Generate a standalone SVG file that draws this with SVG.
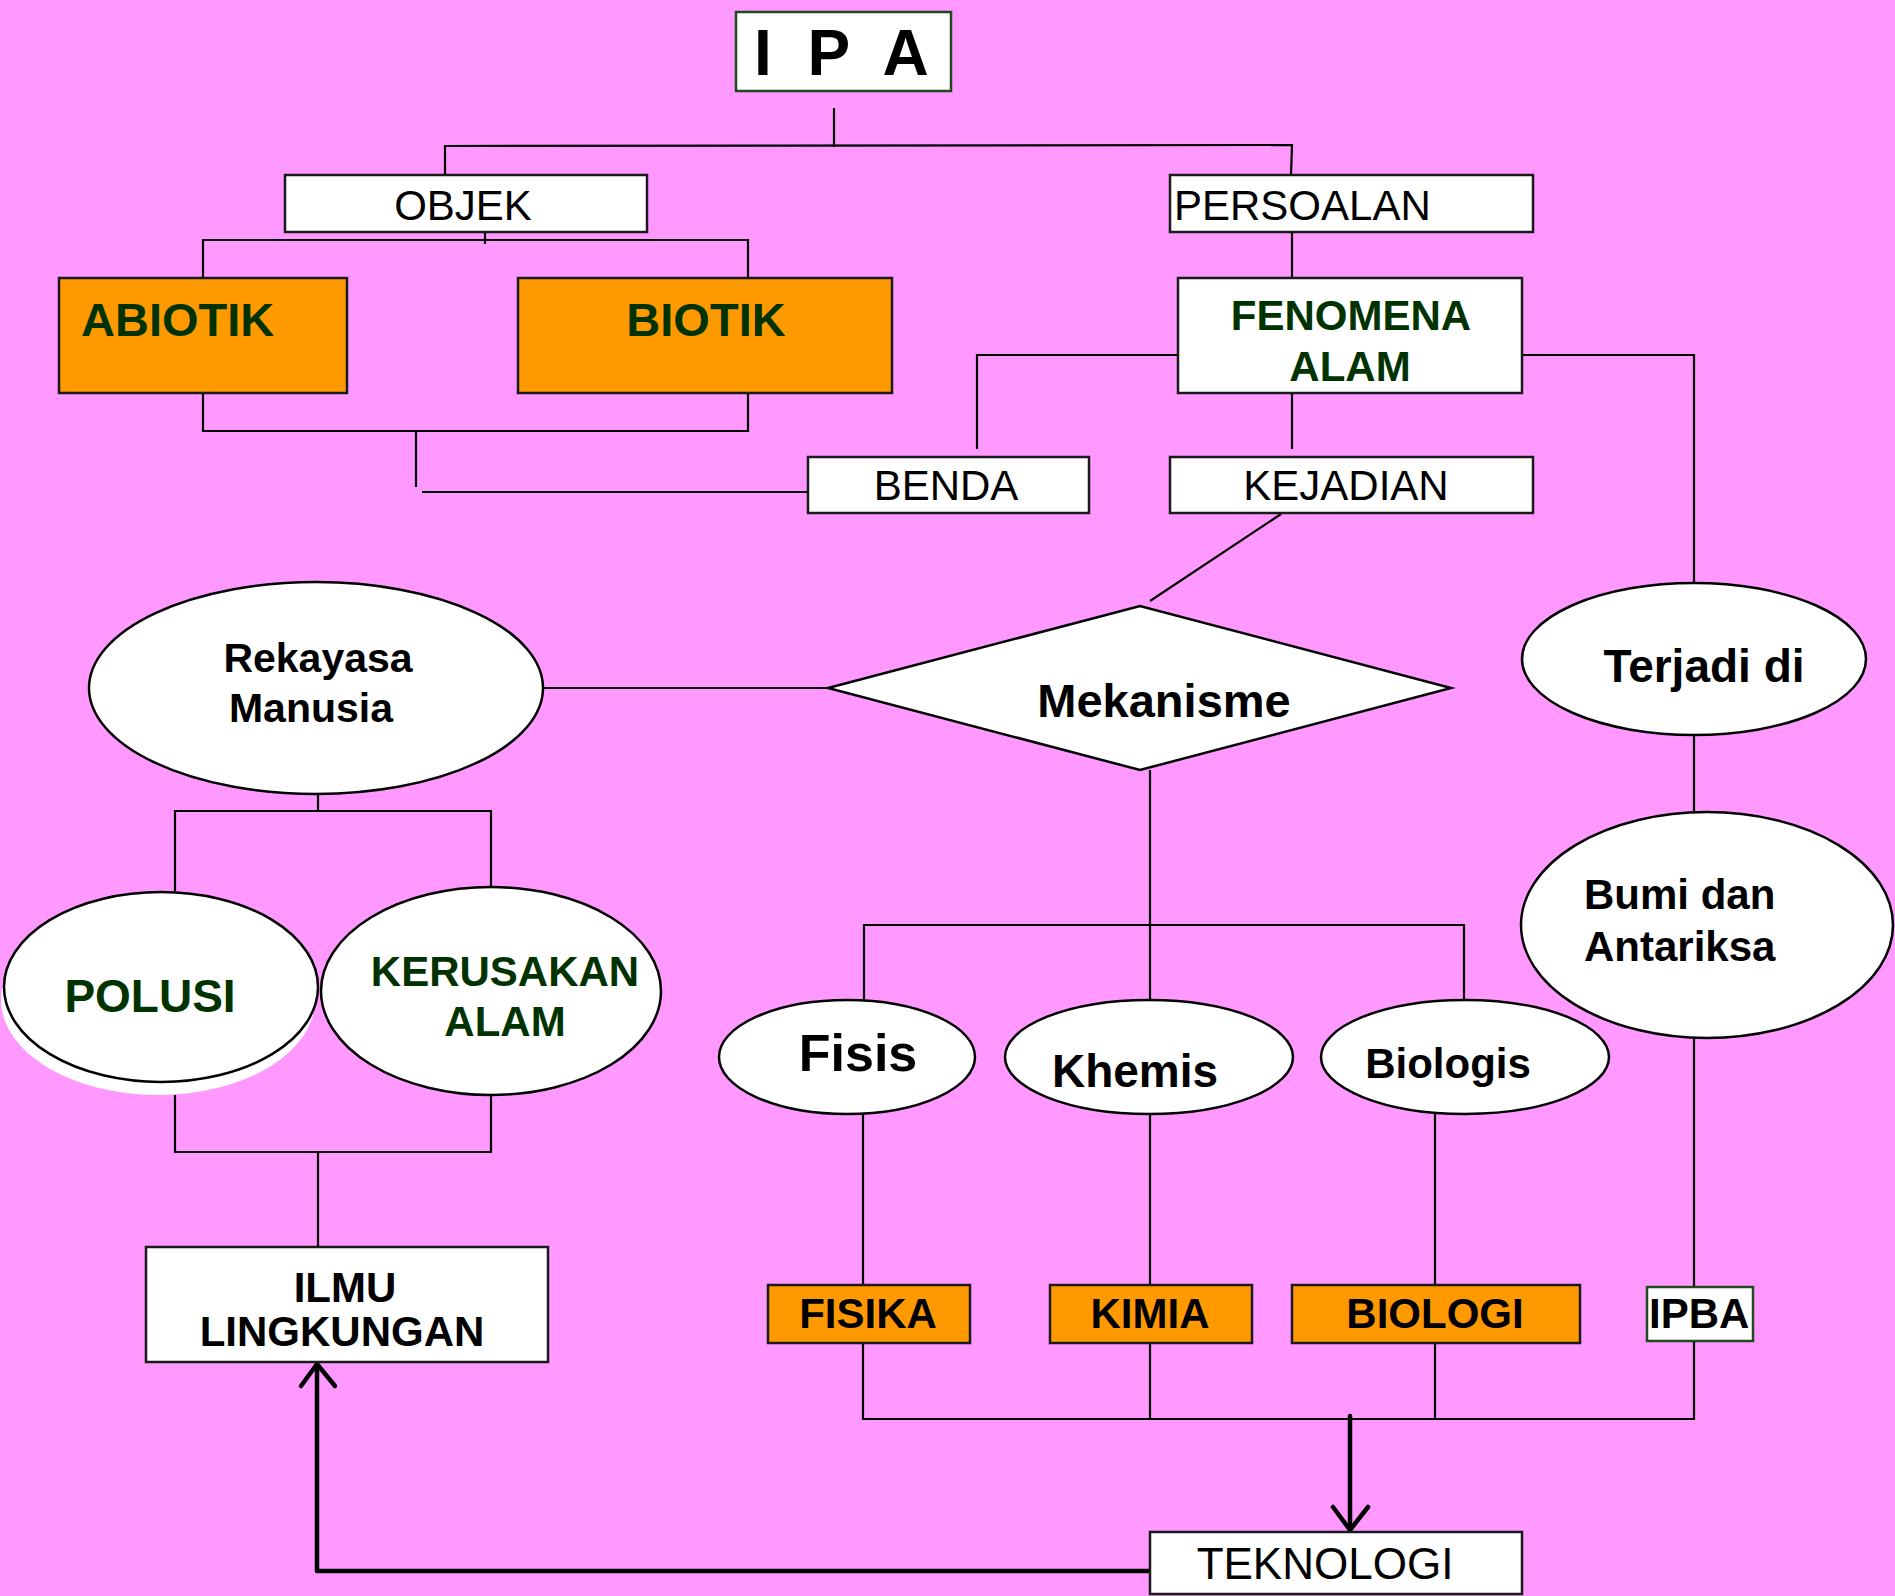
<svg xmlns="http://www.w3.org/2000/svg" width="1895" height="1596" viewBox="0 0 1895 1596">
<style>
.bg{fill:#FF99FF}
.box{fill:#fff;stroke:#1a1a1a;stroke-width:2.5}
.gbox{fill:#fff;stroke:#1f4a1f;stroke-width:2.5}
.obox{fill:#FF9900;stroke:#1a1a1a;stroke-width:2.5}
.ell{fill:#fff;stroke:#000;stroke-width:2.5}
.ln{fill:none;stroke:#000;stroke-width:2.2}
.arr{fill:none;stroke:#000;stroke-width:4.5;stroke-linecap:round;stroke-linejoin:round}
text{font-family:"Liberation Sans",Arial,sans-serif}
.n{font-size:42px;fill:#000}
.b{font-size:42px;font-weight:bold;fill:#000}
.g{font-size:42px;font-weight:bold;fill:#003300}
.m{text-anchor:middle}
</style>
<rect class="bg" x="0" y="0" width="1895" height="1596"/>

<g id="connectors">
<polyline class="ln" points="834,108 834,147"/>
<polyline class="ln" points="445,175 445,146 1292,145 1291,175"/>
<polyline class="ln" points="485,232 485,244"/>
<polyline class="ln" points="203,278 203,240 748,240 748,278"/>
<polyline class="ln" points="203,393 203,431 748,431 748,393"/>
<polyline class="ln" points="416,431 416,487"/>
<polyline class="ln" points="422,492 808,492"/>
<polyline class="ln" points="1292,232 1292,278"/>
<polyline class="ln" points="1178,355 977,355 977,449"/>
<polyline class="ln" points="1292,393 1292,449"/>
<polyline class="ln" points="1522,355 1694,355 1694,582"/>
<polyline class="ln" points="1281,514 1150,601"/>
<polyline class="ln" points="542,688 828,688"/>
<polyline class="ln" points="1150,770 1150,999"/>
<polyline class="ln" points="864,1000 864,925 1464,925 1464,999"/>
<polyline class="ln" points="1694,735 1694,811"/>
<polyline class="ln" points="1694,1038 1694,1287"/>
<polyline class="ln" points="318,794 318,811"/>
<polyline class="ln" points="175,891 175,811 491,811 491,886"/>
<polyline class="ln" points="175,1095 175,1152 491,1152 491,1095"/>
<polyline class="ln" points="318,1152 318,1247"/>
<polyline class="ln" points="863,1114 863,1285"/>
<polyline class="ln" points="1150,1114 1150,1285"/>
<polyline class="ln" points="1435,1114 1435,1285"/>
<polyline class="ln" points="863,1343 863,1419 1694,1419 1694,1341"/>
<polyline class="ln" points="1150,1343 1150,1419"/>
<polyline class="ln" points="1435,1343 1435,1419"/>
<polyline class="arr" points="1350,1416 1350,1530"/>
<polyline class="arr" points="1333,1507 1350,1530 1368,1507"/>
<polyline class="arr" points="1150,1571 317,1571 317,1364"/>
<polyline class="arr" points="301,1386 317,1364 335,1386"/>
</g>

<g id="ipa"><rect class="gbox" x="736" y="12" width="215" height="79"/><text x="754" y="75" style="font-size:64px;font-weight:bold;letter-spacing:9px" xml:space="preserve">I P A</text></g>
<g id="objek"><rect class="box" x="285" y="175" width="362" height="57"/><text class="n m" x="463" y="220">OBJEK</text></g>
<g id="persoalan"><rect class="box" x="1170" y="175" width="363" height="57"/><text class="n" x="1174" y="220">PERSOALAN</text></g>
<g id="abiotik"><rect class="obox" x="59" y="278" width="288" height="115"/><text class="g" x="81" y="336" style="font-size:47px">ABIOTIK</text></g>
<g id="biotik"><rect class="obox" x="518" y="278" width="374" height="115"/><text class="g m" x="706" y="336" style="font-size:47px">BIOTIK</text></g>
<g id="fenomena"><rect class="box" x="1178" y="278" width="344" height="115"/><text class="g m" x="1351" y="330">FENOMENA</text><text class="g m" x="1350" y="381">ALAM</text></g>
<g id="benda"><rect class="box" x="808" y="457" width="281" height="56"/><text class="n m" x="946" y="500">BENDA</text></g>
<g id="kejadian"><rect class="box" x="1170" y="457" width="363" height="56"/><text class="n m" x="1346" y="500">KEJADIAN</text></g>
<g id="rekayasa"><ellipse class="ell" cx="316" cy="688" rx="227" ry="106"/><text class="b m" x="318" y="672" style="font-size:41px">Rekayasa</text><text class="b m" x="311" y="722" style="font-size:41px">Manusia</text></g>
<g id="mekanisme"><polygon class="ell" points="828,688 1140,606 1451,688 1140,770"/><text class="b m" x="1164" y="717" style="font-size:47px">Mekanisme</text></g>
<g id="terjadi"><ellipse class="ell" cx="1694" cy="659" rx="172" ry="76"/><text class="b m" x="1704" y="682" style="font-size:46px">Terjadi di</text></g>
<g id="bumi"><ellipse class="ell" cx="1707" cy="925" rx="186" ry="113"/><text class="b" x="1584" y="909">Bumi dan</text><text class="b" x="1584" y="961">Antariksa</text></g>
<g id="polusi"><ellipse cx="158" cy="1000" rx="157" ry="95" fill="#fff"/><ellipse class="ell" cx="161" cy="987" rx="157" ry="95"/><text class="g m" x="150" y="1012" style="font-size:46px">POLUSI</text></g>
<g id="kerusakan"><ellipse class="ell" cx="491" cy="991" rx="170" ry="104"/><text class="g m" x="505" y="986">KERUSAKAN</text><text class="g m" x="505" y="1036">ALAM</text></g>
<g id="fisis"><ellipse class="ell" cx="847" cy="1057" rx="128" ry="57"/><text class="b m" x="858" y="1071" style="font-size:52px">Fisis</text></g>
<g id="khemis"><ellipse class="ell" cx="1149" cy="1057" rx="144" ry="57"/><text class="b m" x="1135" y="1087" style="font-size:46px">Khemis</text></g>
<g id="biologis"><ellipse class="ell" cx="1465" cy="1057" rx="144" ry="57"/><text class="b m" x="1448" y="1078">Biologis</text></g>
<g id="ilmu"><rect class="box" x="146" y="1247" width="402" height="115"/><text class="b m" x="345" y="1302">ILMU</text><text class="b m" x="342" y="1346">LINGKUNGAN</text></g>
<g id="fisika"><rect class="obox" x="768" y="1285" width="202" height="58"/><text class="b m" x="868" y="1328">FISIKA</text></g>
<g id="kimia"><rect class="obox" x="1050" y="1285" width="202" height="58"/><text class="b m" x="1150" y="1328">KIMIA</text></g>
<g id="biologi"><rect class="obox" x="1292" y="1285" width="288" height="58"/><text class="b m" x="1435" y="1328">BIOLOGI</text></g>
<g id="ipba"><rect class="gbox" x="1647" y="1287" width="106" height="54"/><text class="b" x="1649" y="1328">IPBA</text></g>
<g id="teknologi"><rect class="box" x="1150" y="1532" width="372" height="62"/><text class="n m" x="1325" y="1579" style="font-size:44px">TEKNOLOGI</text></g>
</svg>
